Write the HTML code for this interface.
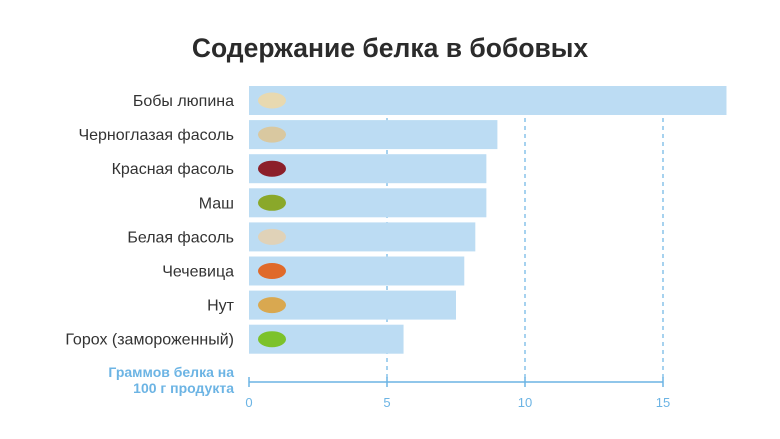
<!DOCTYPE html>
<html><head><meta charset="utf-8"><style>
html,body{margin:0;padding:0;background:#fff;width:780px;height:439px;overflow:hidden}
svg{display:block;font-family:"Liberation Sans",sans-serif}
</style></head><body>
<svg id="chart" width="780" height="439">
<text x="390" y="57" text-anchor="middle" font-size="26.5" font-weight="bold" fill="#2b2b2b">Содержание белка в бобовых</text>
<g id="grid"></g><g id="bars"></g><g id="axis"></g>
<text x="234" y="377" text-anchor="end" font-size="14" font-weight="bold" fill="#6cb4e4">Граммов белка на</text>
<text x="234" y="393" text-anchor="end" font-size="14" font-weight="bold" fill="#6cb4e4">100 г продукта</text>
</svg>
<script>
const categories=["Бобы люпина","Черноглазая фасоль","Красная фасоль","Маш","Белая фасоль","Чечевица","Нут","Горох (замороженный)"];
const values=[17.3,9.0,8.6,8.6,8.2,7.8,7.5,5.6];
const ticks=[0,5,10,15];
const iconColors=["#e8d9b0","#d9c8a0","#8c1f2a","#8aa82a","#e0d2b8","#e06a2a","#d9a850","#7cc22a"];
const NS="http://www.w3.org/2000/svg";
const x=v=>249+v*27.6;
const y=i=>86+i*34.1;
function mk(t,a,p){const e=document.createElementNS(NS,t);for(const k in a)e.setAttribute(k,a[k]);p.appendChild(e);return e;}
const grid=document.getElementById('grid'),bars=document.getElementById('bars'),axis=document.getElementById('axis');
ticks.forEach(t=>{
 if(t>0){const l=mk('line',{x1:x(t),x2:x(t),y1:86,y2:382,stroke:'#6cb4e4','stroke-width':1.2,'stroke-dasharray':'4,4'},grid);
 
 }
 const tk=mk('line',{x1:x(t),x2:x(t),y1:377,y2:387,stroke:'#6cb4e4','stroke-width':1.5},axis);
 
 
 const tl=mk('text',{x:x(t),y:407,'text-anchor':'middle','font-size':13,fill:'#6cb4e4'},axis);tl.textContent=t;
 
 
});
const ax=mk('line',{x1:x(0),x2:x(15),y1:382,y2:382,stroke:'#6cb4e4','stroke-width':1.5},axis);


categories.forEach((c,i)=>{
 const r=mk('rect',{x:x(0),y:y(i),width:x(values[i])-x(0),height:29,fill:'#bcdcf3'},bars);
 
 
 const ic=mk('ellipse',{cx:x(0)+23,cy:y(i)+14.5,rx:14,ry:8,fill:iconColors[i]},bars);
 
 
 const t=mk('text',{x:234,y:y(i)+20,'text-anchor':'end','font-size':16,fill:'#333'},bars);t.textContent=c;
 
 
});
</script>
</body></html>
